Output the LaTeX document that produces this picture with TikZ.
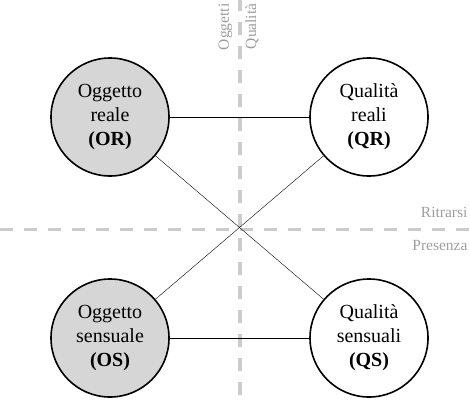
\documentclass[tikz,border=0pt]{standalone}
\usepackage{fontspec}
\setmainfont{Liberation Serif}
\definecolor{asse}{gray}{0.80}
\definecolor{etich}{gray}{0.62}
\definecolor{riemp}{gray}{0.84}
\tikzset{
    oggetto/.style={circle, draw=black, line width=1.6pt, minimum size=118pt,
        align=center, font=\fontsize{20}{24}\selectfont},
    asse/.style={color=asse, line width=3.5pt, dash pattern=on 13pt off 11pt},
    etichetta/.style={color=etich, font=\fontsize{15.5}{18}\selectfont}
}
\begin{document}
\begin{tikzpicture}[x=1pt, y=-1pt]
        \useasboundingbox (0,0) rectangle (470,404);
        % assi
        \draw[asse](240,-2)--(240,404);
        \draw[asse](0,229.5)--(470,229.5);
        \node[etichetta, rotate=90, anchor=east] (oggetti) at (225.5,0){Oggetti};
        \node[etichetta, rotate=90, anchor=east] (qualita) at (252,0){Qualità};
        \node[etichetta, anchor=south east] (ritrarsi) at (471,221){Ritrarsi};
        \node[etichetta, anchor=north east] (presenza) at (471,237){Presenza};

        % oggetti e qualità
        \node[oggetto, fill=riemp] (OR) at (110,117){Oggetto\\reale\\\textbf{(OR)}};
        \node[oggetto, fill=white] (QR) at (369,117){Qualità\\reali\\\textbf{(QR)}};
        \node[oggetto, fill=riemp] (OS) at (110,338){Oggetto\\sensuale\\\textbf{(OS)}};
        \node[oggetto, fill=white] (QS) at (369,338){Qualità\\sensuali\\\textbf{(QS)}};

        \draw (OR)--(QR);
        \draw (OS)--(QS);
        \draw (OR)--(QS);
        \draw (OS)--(QR);
    \end{tikzpicture}
\end{document}
